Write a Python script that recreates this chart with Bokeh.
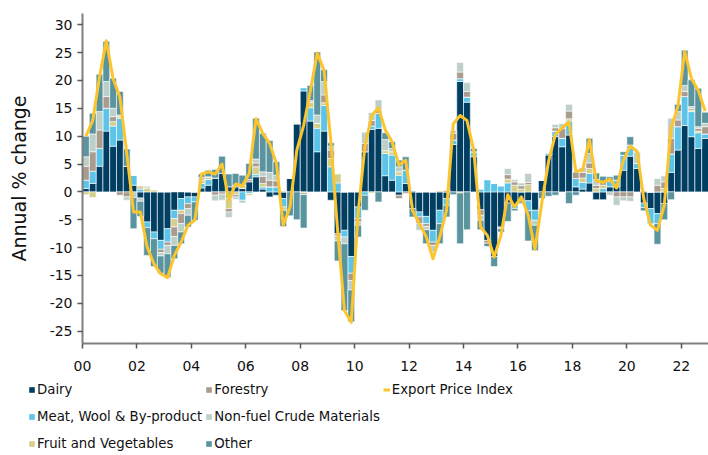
import numpy as np
from bokeh.plotting import figure
from bokeh.layouts import column
from bokeh.models import Legend, LegendItem, FixedTicker, Range1d
from bokeh.embed import file_html
from bokeh.resources import INLINE

# ---------------- data (quarterly, 2000Q1 .. 2022Q4) ----------------
start_year = 2000
n_quarters = 92

dairy = [0.6, 1.5, 4.6, 10.9, 8.2, 9.3, 4.6, 1.2, -1.1, -5.4,
         -7.2, -8.7, -6.6, -3.3, -1.2, -0.9, -0.9, 0.7, 1.2, 2.5,
         3.3, 0.9, 0.9, 0.6, 1.8, 2.7, 0.5, -0.9, -0.6, -1.2,
         2.4, 12.2, 18.1, 12.7, 7.2, 10.9, -1.5, -7.5, -6.9, -11.6,
         -2.7, 7.2, 11.2, 11.4, 2.9, 2.1, -0.6, 1.5, -3.0, -3.6,
         -4.4, -6.9, -3.3, -1.2, 8.5, 19.8, 16.1, 6.3, -3.2, -8.7,
         -11.6, -6.3, -2.0, -2.4, -1.8, -1.6, -3.3, 2.1, 6.6, 9.9,
         8.1, 10.2, 0.9, 0.5, 1.6, -1.4, -1.4, 0.9, 0.9, 3.9,
         6.4, 4.2, -2.0, -3.0, -3.9, -2.1, 3.5, 7.5, 11.9, 9.9,
         7.8, 9.6]

meat = [1.5, 2.2, 3.2, 4.1, 3.6, 3.9, 0.0, 1.8, 0.5, -1.0,
        -1.2, -1.6, -2.4, -1.5, -2.1, -1.2, -0.9, 0.8, 1.0, 0.0,
        0.0, -1.2, 0.3, -1.5, -0.3, 0.4, 0.4, 0.9, 0.9, -1.5,
        0.0, 0.0, 0.6, 2.4, 4.2, 4.6, 4.5, 1.6, -1.2, -3.0,
        -2.1, -0.6, 0.6, 2.7, 4.0, 4.5, 3.0, 2.4, 0.3, -0.9,
        -1.3, -2.1, -2.4, -1.2, 0.8, 0.5, 0.9, 0.9, 0.5, 2.2,
        1.5, 1.1, 1.6, -0.6, 0.0, -1.8, -1.8, 0.0, 0.4, 1.0,
        1.5, 2.5, 1.5, 1.2, 1.7, 0.0, 0.6, 1.0, 1.2, 2.7,
        2.0, 0.9, -0.8, -2.7, -1.8, 0.0, 3.3, 4.2, 5.2, 4.5,
        2.8, 0.8]

fruit = [-0.5, -1.0, 0.0, 0.0, 0.8, 0.3, 0.0, 0.0, 0.6, 0.7,
         0.4, 0.0, 0.0, -1.5, -0.6, 0.0, 0.0, 0.6, 0.5, 0.0,
         0.0, -1.8, -0.5, 0.6, -0.3, 1.4, 0.6, 0.0, 0.0, -0.6,
         0.0, 0.2, -0.2, 1.0, 0.9, 0.5, 1.5, 1.6, 0.0, 0.0,
         0.0, 0.0, -0.2, 0.0, 0.5, 0.6, 0.6, 0.0, 0.0, 0.0,
         0.0, 0.0, 0.3, 0.0, 0.0, -0.2, 0.0, 0.0, 0.0, 0.0,
         0.0, 0.0, 0.7, 1.2, 0.5, 1.3, 0.0, 0.0, 0.0, 0.0,
         0.0, 0.4, 0.0, 0.8, 0.9, 0.6, 0.6, 0.0, 0.0, 0.0,
         0.0, 0.0, 0.3, 0.0, 0.0, 0.6, 0.0, 0.0, 0.0, 0.3,
         0.3, 0.0]

forestry = [2.5, 3.5, 3.3, 2.1, 0.9, -0.6, -0.9, 0.0, 0.0, 0.0,
            0.0, -0.6, -0.6, -1.7, -1.8, -0.9, 0.0, 0.0, 0.0, -0.6,
            -0.4, -0.6, -0.4, 0.0, 0.4, 0.7, 1.3, 1.2, 1.1, 0.0,
            0.0, 0.0, -0.3, 0.0, 0.0, 1.4, 1.5, -0.4, 0.0, -1.3,
            -0.6, 1.5, 1.0, 0.6, 0.0, 0.0, -0.6, -0.3, 0.0, -1.2,
            -0.5, -0.6, 0.0, 0.3, 1.2, 1.2, 1.0, 0.0, -1.0, -0.5,
            0.0, 0.0, 0.8, 0.6, 0.6, 0.4, 0.0, 0.0, 0.0, 0.6,
            1.8, 1.4, 1.2, 1.0, 1.0, 0.6, 0.7, 0.0, -0.9, -0.9,
            -0.9, 0.0, 0.0, 0.0, 1.2, 1.2, 2.8, 1.2, 0.9, 0.3,
            0.5, 1.3]

nonfuel = [1.7, 3.2, 3.3, 2.7, 1.5, 0.3, -0.6, -1.0, -0.6, 0.3,
           0.0, -0.6, -1.5, -1.6, -1.5, -1.2, 0.0, 0.5, 0.0, -1.0,
           -1.1, -1.0, -0.4, -0.5, 0.0, 0.7, 0.8, 1.4, 1.0, 0.2,
           0.0, 0.0, 0.0, 0.3, 1.5, 2.4, 0.7, -0.9, -1.2, -1.7,
           -0.6, 2.0, 1.5, 1.8, 2.0, 0.6, 0.9, 0.0, 0.0, -1.2,
           -0.6, -1.2, 0.0, 0.0, 0.5, 1.7, 1.6, 0.0, -0.9, 0.0,
           0.0, -0.3, 1.1, 0.4, 0.5, 1.6, -0.9, 0.0, 0.0, 0.6,
           0.9, 1.2, 0.0, 0.9, 1.7, 1.0, 0.0, -0.6, -1.5, -0.7,
           -0.8, 2.1, 0.0, 0.0, 1.2, 1.1, 3.6, 1.5, 1.1, 0.3,
           0.3, 0.6]

other = [3.7, 3.7, 6.7, 7.2, 5.4, 4.2, 3.1, -5.6, -2.7, -5.0,
         -5.0, -3.1, -4.2, -2.4, -2.1, -2.1, -3.3, 0.6, 1.2, 1.5,
         3.1, 2.3, 2.1, 1.8, 2.9, 7.3, 6.9, 5.7, 2.4, -2.9,
         -4.3, -5.0, -6.0, 2.7, 11.3, 2.1, 0.6, -3.6, -12.0, -5.7,
         -2.1, -2.7, 0.0, -1.8, 1.2, 1.2, 1.2, 2.4, -1.5, 0.0,
         -2.5, 0.0, -3.6, -2.1, -0.5, -9.1, -6.8, 0.6, -1.7, -0.6,
         -1.8, -0.6, -3.3, -0.4, -0.3, -5.4, -4.5, -1.2, -0.8, -0.6,
         0.0, -2.1, -0.6, 0.0, 2.7, 1.2, 0.9, 0.8, 0.9, 0.6,
         1.5, 0.0, -0.6, 0.0, -3.7, -2.9, -1.4, 1.3, 6.3, 4.8,
         6.9, 2.0]

export_price_index = [10.0, 12.8, 20.6, 27.1, 20.3, 17.0, 7.0, -3.6, -3.6, -9.9,
                      -12.9, -14.7, -15.4, -11.4, -9.0, -6.0, -5.1, 3.2, 3.6, 3.2,
                      5.0, -1.5, 1.4, 1.1, 3.3, 13.1, 10.5, 8.7, 5.1, -6.0,
                      -2.7, 7.5, 11.9, 18.2, 24.9, 21.8, 9.0, -7.0, -21.3, -23.4,
                      -3.9, 8.1, 13.7, 15.1, 11.1, 9.0, 4.8, 5.7, -3.3, -5.7,
                      -8.0, -12.0, -8.1, -3.3, 12.2, 13.7, 12.8, 7.5, -6.3, -7.8,
                      -11.7, -7.8, -0.5, -2.7, -0.9, -4.2, -10.3, -2.0, 5.5, 10.3,
                      11.5, 12.5, 3.7, 3.9, 9.4, 2.0, 1.7, 2.3, 0.7, 5.7,
                      8.2, 7.3, -1.3, -6.0, -6.9, -2.4, 11.5, 15.3, 25.2, 20.3,
                      18.2, 14.5]

series_names = ["Dairy", "Meat, Wool & By-product", "Fruit and Vegetables",
                "Forestry", "Non-fuel Crude Materials", "Other"]
series_values = [dairy, meat, fruit, forestry, nonfuel, other]
series_colors = ["#003f62", "#5bc4e8", "#d5cf8c", "#a99c8f", "#bdcfc9", "#5a949e"]
line_name = "Export Price Index"
line_color = "#fcc42d"

y_ticks = [-25, -20, -15, -10, -5, 0, 5, 10, 15, 20, 25, 30]
x_ticks = [2000, 2002, 2004, 2006, 2008, 2010, 2012, 2014, 2016, 2018, 2020, 2022]
x_tick_labels = ["00", "02", "04", "06", "08", "10", "12", "14", "16", "18", "20", "22"]

FONT = "DejaVu Sans"

# ---------------- stacking ----------------
x = np.array([start_year + (i + 0.5) / 4.0 for i in range(n_quarters)])
stacks = []
pos_base = np.zeros(n_quarters)
neg_base = np.zeros(n_quarters)
for vals in series_values:
    v = np.array(vals, dtype=float)
    bottom = np.where(v >= 0, pos_base, neg_base + v)
    top = np.where(v >= 0, pos_base + v, neg_base)
    pos_base = np.where(v >= 0, pos_base + v, pos_base)
    neg_base = np.where(v < 0, neg_base + v, neg_base)
    stacks.append((bottom, top))


def style_fig(f):
    f.background_fill_color = "white"
    f.border_fill_color = "white"
    f.outline_line_color = None
    f.xgrid.visible = False
    f.ygrid.visible = False
    if "frame_align" in f.properties():
        f.frame_align = False


# ---------------- main chart ----------------
p = figure(width=708, height=377, output_backend="svg", toolbar_location=None,
           x_range=Range1d(2000, 2023), y_range=Range1d(-27.2, 32.0),
           min_border_left=82, min_border_right=0, min_border_top=13,
           min_border_bottom=34)
style_fig(p)

for (bottom, top), col in zip(stacks, series_colors):
    p.vbar(x=x, bottom=bottom, top=top, width=0.25,
           fill_color=col, line_color="white", line_width=0.6)
p.line(x, export_price_index, line_color=line_color, line_width=3,
       line_join="round")

p.xaxis.ticker = FixedTicker(ticks=x_ticks)
p.xaxis.major_label_overrides = {t: l for t, l in zip(x_ticks, x_tick_labels)}
p.yaxis.ticker = FixedTicker(ticks=y_ticks)
p.yaxis.major_label_overrides = {t: str(t) for t in y_ticks}
for ax in (p.xaxis, p.yaxis):
    ax.axis_line_color = "#7f7f7f"
    ax.axis_line_width = 2
    ax.major_tick_line_color = "#555555"
    ax.major_tick_line_width = 1.5
    ax.major_tick_in = 0
    ax.major_tick_out = 5
    ax.minor_tick_line_color = None
    ax.major_label_text_font = FONT
    ax.major_label_text_font_size = "14px"
    ax.major_label_text_color = "#111111"
    ax.major_label_standoff = 5
p.xaxis.major_label_standoff = 12
p.yaxis.axis_label = "Annual % change"
p.yaxis.axis_label_text_font = FONT
p.yaxis.axis_label_text_font_size = "19px"
p.yaxis.axis_label_text_font_style = "normal"
p.yaxis.axis_label_text_color = "#111111"
p.yaxis.axis_label_standoff = 17

# ---------------- legend strip ----------------
lg = figure(width=708, height=78, output_backend="svg", toolbar_location=None,
            x_range=Range1d(0, 1), y_range=Range1d(0, 1),
            min_border_left=0, min_border_right=0, min_border_top=0,
            min_border_bottom=0)
lg.xaxis.visible = False
lg.yaxis.visible = False
style_fig(lg)

items = []
for name, (bottom, top), col in zip(series_names, stacks, series_colors):
    # same data as the chart, lying outside this strip's ranges (not visible)
    r = lg.vbar(x=x, bottom=bottom, top=top, width=0.25, fill_color=col,
                line_color=None)
    items.append(LegendItem(label=name, renderers=[r]))
rl = lg.line(x, export_price_index, line_color=line_color, line_width=3)
items.append(LegendItem(label=line_name, renderers=[rl]))

legend = Legend(items=items, orientation="vertical", nrows=3,
                location=(28, 0), margin=0, padding=0, spacing=3,
                glyph_width=7, glyph_height=7, label_standoff=2,
                label_height=24,
                label_text_font=FONT, label_text_font_size="13.3px",
                label_text_color="#111111",
                border_line_color=None, background_fill_alpha=0)
lg.add_layout(legend, "center")

layout = column(p, lg, spacing=0)
open("out.html", "w").write(file_html(layout, INLINE))
